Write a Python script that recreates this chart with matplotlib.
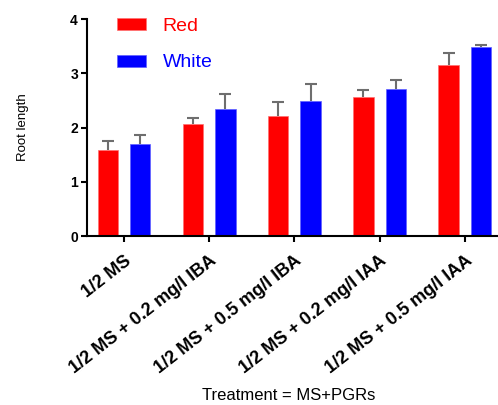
import matplotlib.pyplot as plt
import numpy as np

treatments = ['1/2 MS', '1/2 MS + 0.2 mg/l IBA', '1/2 MS + 0.5 mg/l IBA',
              '1/2 MS + 0.2 mg/l IAA', '1/2 MS + 0.5 mg/l IAA']
red = [1.58, 2.06, 2.21, 2.56, 3.15]
red_err = [0.18, 0.12, 0.26, 0.13, 0.22]
white = [1.70, 2.34, 2.49, 2.71, 3.48]
white_err = [0.16, 0.28, 0.31, 0.16, 0.04]

plt.rcParams['font.family'] = ['Liberation Sans', 'DejaVu Sans']

fig = plt.figure(figsize=(4.98, 4.05), dpi=100)
ax = fig.add_axes([0.1747, 0.417, 0.8253, 0.536])

x = np.arange(len(treatments))
w = 0.24
off = 0.19
errkw = dict(ecolor='#6e6e6e', elinewidth=1.5, capsize=4.3, capthick=1.5)
b1 = ax.bar(x - off, red, w, color='#ff0000', edgecolor='#ff7070', linewidth=0.5,
            label='Red', yerr=[np.zeros(5), red_err], error_kw=errkw)
b2 = ax.bar(x + off, white, w, color='#0000ff', edgecolor='#6060ff', linewidth=0.5,
            label='White', yerr=[np.zeros(5), white_err], error_kw=errkw)
# only the upper caps are shown
for b in (b1, b2):
    b.errorbar.lines[1][0].set_visible(False)

ax.set_xlim(-0.435, 4.39)
ax.set_ylim(0, 4)
ax.set_yticks([0, 1, 2, 3, 4])
ax.set_xticks(x)
ax.set_xticklabels(treatments, rotation=38, ha='right', rotation_mode='anchor',
                   fontsize=13, fontweight='bold')
for t in ax.get_yticklabels():
    t.set_fontsize(10)
    t.set_fontweight('bold')

for s in ['top', 'right']:
    ax.spines[s].set_visible(False)
for s in ['left', 'bottom']:
    ax.spines[s].set_linewidth(1.5)
ax.tick_params(axis='both', length=4.5, width=1.5, pad=2)
ax.tick_params(axis='x', pad=7)

ax.set_ylabel('Root length', fontsize=9.5)
ax.yaxis.set_label_coords(-0.14, 0.5)
ax.set_xlabel('Treatment = MS+PGRs', fontsize=12)
ax.xaxis.set_label_coords(0.49, -0.70)

leg = ax.legend(loc='upper left', bbox_to_anchor=(0.073, 1.005), frameon=False,
                fontsize=14, handlelength=1.5, handleheight=0.57,
                handletextpad=0.85, labelspacing=1.0, borderpad=0,
                borderaxespad=0, labelcolor=['#ff0000', '#0000ff'])

fig.savefig('out.png', dpi=100)
